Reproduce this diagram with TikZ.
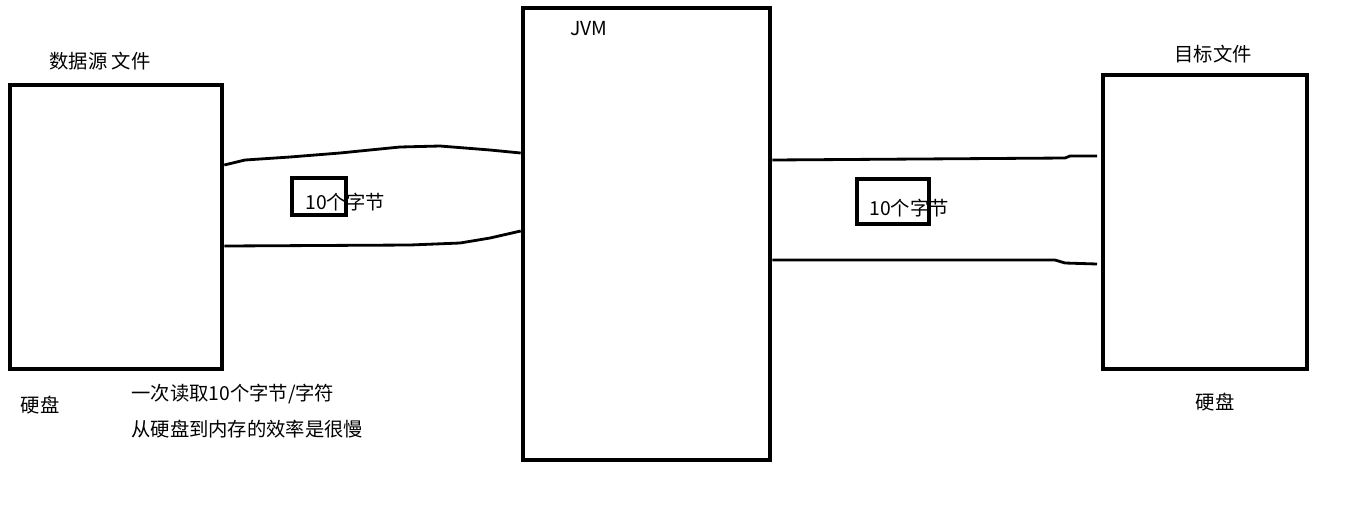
\documentclass[tikz,border=0pt]{standalone}
\usepackage{fontspec}
\setmainfont{Noto Sans CJK SC}
\tikzset{
	box/.style={draw, line width=2.6pt, minimum width=#1},
	tag/.style={draw, line width=2.8pt, inner sep=0pt},
	wire/.style={line width=1.6pt, line join=round},
	lbl/.style={inner sep=0pt, font=\fontsize{11}{13}\selectfont}
}
\begin{document}
\begin{tikzpicture}[x=0.02cm, y=-0.02cm]
	\useasboundingbox (0,0) rectangle (1352,515);

	% three stores
	\node[box=212*0.02cm, minimum height=284*0.02cm] (src) at (116,227) {};
	\node[box=247*0.02cm, minimum height=452*0.02cm] (jvm) at (646.5,234) {};
	\node[box=204*0.02cm, minimum height=294*0.02cm] (dst) at (1205,222) {};

	\node[lbl] (srcname) at (100,61) {数据源 文件};
	\node[lbl] (jvmname) at (589,29) {JVM};
	\node[lbl] (dstname) at (1213,54) {目标文件};
	\node[lbl] (srcdisk) at (40,405) {硬盘};
	\node[lbl] (dstdisk) at (1215,402) {硬盘};
	\node[lbl, anchor=west] (note1) at (131,394) {一次读取10个字节/字符};
	\node[lbl, anchor=west] (note2) at (131,429) {从硬盘到内存的效率是很慢};

	% read pipe
	\draw[wire] (src.east |- 0,165) -- (245,160) -- (290,157) -- (340,153) -- (400,147)
		-- (440,146) -- (490,150) -- (jvm.west |- 0,153);
	\draw[wire] (src.east |- 0,246) -- (410,245) -- (460,243) -- (490,238) -- (jvm.west |- 0,231);

	% write pipe
	\draw[wire] (jvm.east |- 0,160) -- (1065,158) -- (1070,156) -- (1097,156);
	\draw[wire] (jvm.east |- 0,260) -- (1055,260) -- (1065,263) -- (1097,264);

	% buffers
	\node[tag, minimum width=54*0.02cm, minimum height=37*0.02cm] (buf1) at (319,196.5) {};
	\node[lbl, anchor=west] (buf1txt) at (305,202) {10个字节};
	\node[tag, minimum width=72*0.02cm, minimum height=45*0.02cm] (buf2) at (893,201.5) {};
	\node[lbl, anchor=west] (buf2txt) at (869,208) {10个字节};
\end{tikzpicture}
\end{document}
